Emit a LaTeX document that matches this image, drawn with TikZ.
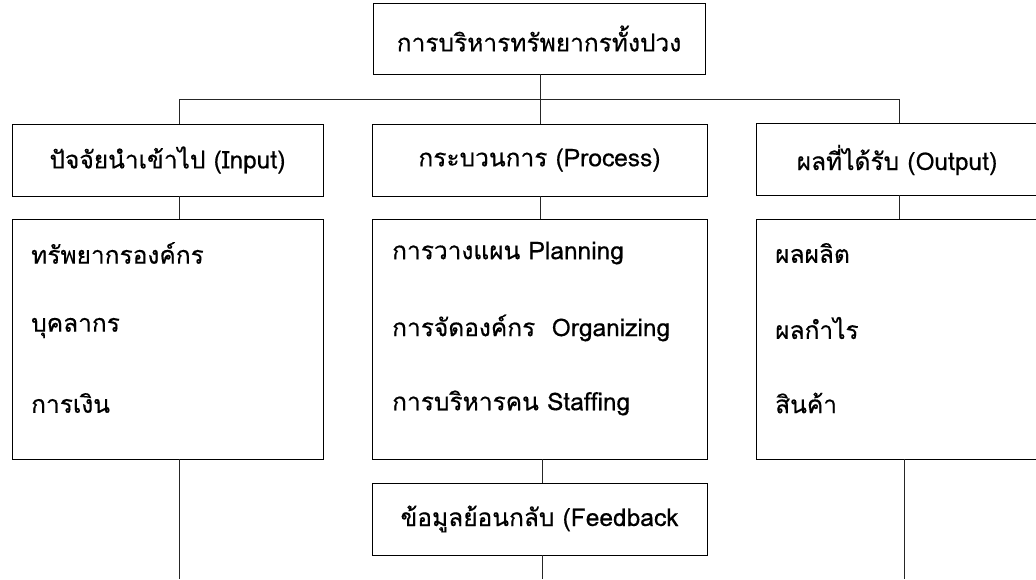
\documentclass[tikz,border=0pt]{standalone}
\usepackage{fontspec}
\setmainfont[Script=Thai,FakeBold=0.45]{Loma}
\begin{document}
\begin{tikzpicture}[x=1pt,y=-1pt,
  box/.style={draw=black,line width=0.9pt,inner sep=0pt,minimum height=72pt},
  wire/.style={draw=black!85,line width=0.9pt},
  lbl/.style={anchor=west,inner sep=0pt,font=\fontsize{24.5}{28}\selectfont},
  every node/.append style={font=\fontsize{24.5}{28}\selectfont}]
\useasboundingbox (0,0) rectangle (1036,579);
\clip (0,0) rectangle (1036,579);
\fill[white] (0,0) rectangle (1036,579);
% header boxes
\node[box,minimum width=332pt,minimum height=71pt] (top) at (539,38.5) {การบริหารทรัพยากรทั้งปวง};
\node[box,minimum width=311pt] (in) at (167.5,160) {ปัจจัยนำเข้าไป (Input)};
\node[box,minimum width=335pt] (pr) at (539.5,160) {กระบวนการ (Process)};
\node[box,minimum width=335pt] (out) at (923.5,159) {};
\node (outt) at (897,160) {ผลที่ได้รับ (Output)};
% lower boxes
\node[box,minimum width=311pt,minimum height=240pt] (inl) at (167.5,339) {};
\node[box,minimum width=335pt,minimum height=240pt] (prl) at (539.5,339) {};
\node[box,minimum width=335pt,minimum height=240pt] (outl) at (923.5,339) {};
\node[box,minimum width=335pt] (fb) at (539.5,519) {ข้อมูลย้อนกลับ (Feedback};
% list texts
\node[lbl] (i1) at (31,253) {ทรัพยากรองค์กร};
\node[lbl] (i2) at (31,328) {บุคลากร};
\node[lbl] (i3) at (31,403) {การเงิน};
\node[lbl] (p1) at (392,253) {การวางแผน Planning};
\node[lbl] (p2) at (392,328) {การจัดองค์กร~~Organizing};
\node[lbl] (p3) at (392,403) {การบริหารคน Staffing};
\node[lbl] (o1) at (775,253) {ผลผลิต};
\node[lbl] (o2) at (775,328) {ผลกำไร};
\node[lbl] (o3) at (775,403) {สินค้า};
% connectors
\coordinate (busm) at (540,99);
\coordinate (busl) at (179,99);
\coordinate (busr) at (899,99);
\coordinate (endl) at (179,579);
\coordinate (endm) at (542,579);
\coordinate (endr) at (904,579);
\draw[wire] (top.south -| busm) -- (busm);
\draw[wire] (busl) -- (busr);
\draw[wire] (busl) -- (in.north -| busl);
\draw[wire] (busm) -- (pr.north -| busm);
\draw[wire] (busr) -- (out.north -| busr);
\draw[wire] (in.south -| busl) -- (inl.north -| busl);
\draw[wire] (pr.south -| busm) -- (prl.north -| busm);
\draw[wire] (out.south -| busr) -- (outl.north -| busr);
\draw[wire] (inl.south -| endl) -- (endl);
\draw[wire] (prl.south -| endm) -- (fb.north -| endm);
\draw[wire] (fb.south -| endm) -- (endm);
\draw[wire] (outl.south -| endr) -- (endr);
\end{tikzpicture}
\end{document}
